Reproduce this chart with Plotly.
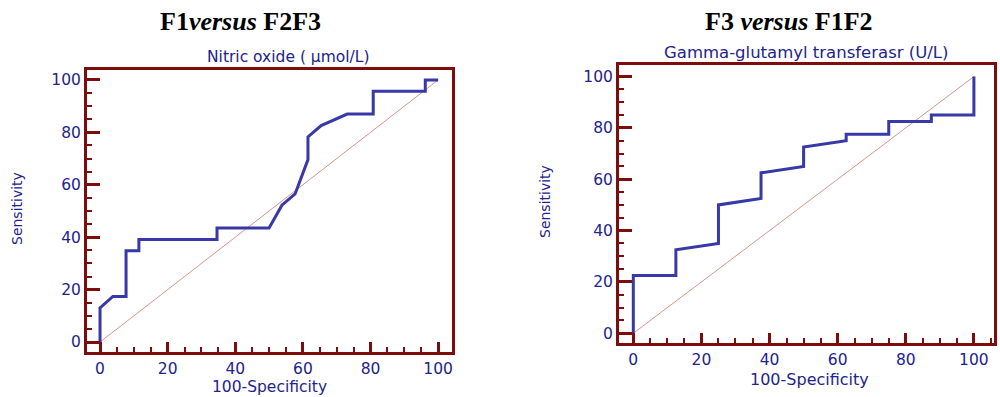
import plotly.graph_objects as go

# ---- data ----
left_fpr = [0, 0, 3.8, 7.7, 7.7, 11.5, 11.5, 34.6, 34.6, 50, 53.8, 57.7, 61.5, 61.5, 65.4, 73.1, 80.8, 80.8, 96.2, 96.2, 100]
left_tpr = [0, 13, 17.4, 17.4, 34.8, 34.8, 39.1, 39.1, 43.5, 43.5, 52.2, 56.5, 69.6, 78.3, 82.6, 87, 87, 95.7, 95.7, 100, 100]
right_fpr = [0, 0, 12.5, 12.5, 25, 25, 37.5, 37.5, 50, 50, 62.5, 62.5, 75, 75, 87.5, 87.5, 100, 100]
right_tpr = [0, 22.5, 22.5, 32.5, 35, 50, 52.5, 62.5, 65, 72.5, 75, 77.5, 77.5, 82.5, 82.5, 85, 85, 100]
diag = [0, 100]
tick_vals = [0, 20, 40, 60, 80, 100]
tick_text = ["0", "20", "40", "60", "80", "100"]

W, H = 1000, 397
FRAME = "#7d0c0c"
CURVE = "#3838a6"
DIAGC = "#d8948e"
TXT = "#23238c"
SANS = "DejaVu Sans"
SERIF = "Liberation Serif"

fig = go.Figure()

fig.add_trace(go.Scatter(x=diag, y=diag, mode="lines", line=dict(color=DIAGC, width=1),
                         xaxis="x", yaxis="y", showlegend=False))
fig.add_trace(go.Scatter(x=left_fpr, y=left_tpr, mode="lines", line=dict(color=CURVE, width=3),
                         xaxis="x", yaxis="y", showlegend=False))
fig.add_trace(go.Scatter(x=diag, y=diag, mode="lines", line=dict(color=DIAGC, width=1),
                         xaxis="x2", yaxis="y2", showlegend=False))
fig.add_trace(go.Scatter(x=right_fpr, y=right_tpr, mode="lines", line=dict(color=CURVE, width=3),
                         xaxis="x2", yaxis="y2", showlegend=False))


def ax(domain, rng, anchor, ticklen, fsize):
    return dict(domain=domain, range=rng, anchor=anchor, showgrid=False, zeroline=False,
                showline=True, linecolor=FRAME, linewidth=3, mirror=True,
                ticks="inside", ticklen=ticklen, tickwidth=3, tickcolor=FRAME,
                tickvals=tick_vals, ticktext=tick_text,
                tickfont=dict(family=SANS, size=fsize, color=TXT),
                minor=dict(ticks="inside", ticklen=5, tickwidth=2, tickcolor=FRAME, dtick=5,
                           showgrid=False),
                fixedrange=True)


def px_y(py):
    return 1 - py / H


fig.update_layout(
    width=W, height=H, margin=dict(l=0, r=0, t=0, b=0),
    paper_bgcolor="white", plot_bgcolor="white",
    xaxis=ax([87 / W, 452 / W], [-3.85, 104.1], "y", 10, 15.5),
    yaxis=ax([px_y(352), px_y(70)], [-3.8, 103.8], "x", 13, 15.5),
    xaxis2=ax([619 / W, 994 / W], [-4.2, 105.9], "y2", 10, 15.5),
    yaxis2=ax([px_y(343), px_y(65)], [-3.8, 104.5], "x2", 13, 15.5),
)

annots = [
    ("<b>F1<i>versus</i> F2F3</b>", 240, 22, SERIF, 26, "black", 0),
    ("<b>F3 <i>versus</i> F1F2</b>", 789, 22, SERIF, 26, "black", 0),
    ("Nitric oxide ( \u00b5mol/L)", 288, 57, SANS, 15.5, TXT, 0),
    ("Gamma-glutamyl transferasr (U/L)", 806, 52, SANS, 16.5, TXT, 0),
    ("100-Specificity", 269, 387, SANS, 15.5, TXT, 0),
    ("100-Specificity", 809, 379, SANS, 16, TXT, 0),
    ("Sensitivity", 17, 209, SANS, 14, TXT, -90),
    ("Sensitivity", 545, 202, SANS, 14, TXT, -90),
]
for text, x, y, fam, size, col, ang in annots:
    fig.add_annotation(text=text, x=x / W, y=px_y(y), xref="paper", yref="paper",
                       xanchor="center", yanchor="middle", showarrow=False,
                       textangle=ang, font=dict(family=fam, size=size, color=col))

fig.write_html("out.html", config={"displayModeBar": False},
               post_script="document.body.style.margin='0';document.body.style.overflow='hidden';")
